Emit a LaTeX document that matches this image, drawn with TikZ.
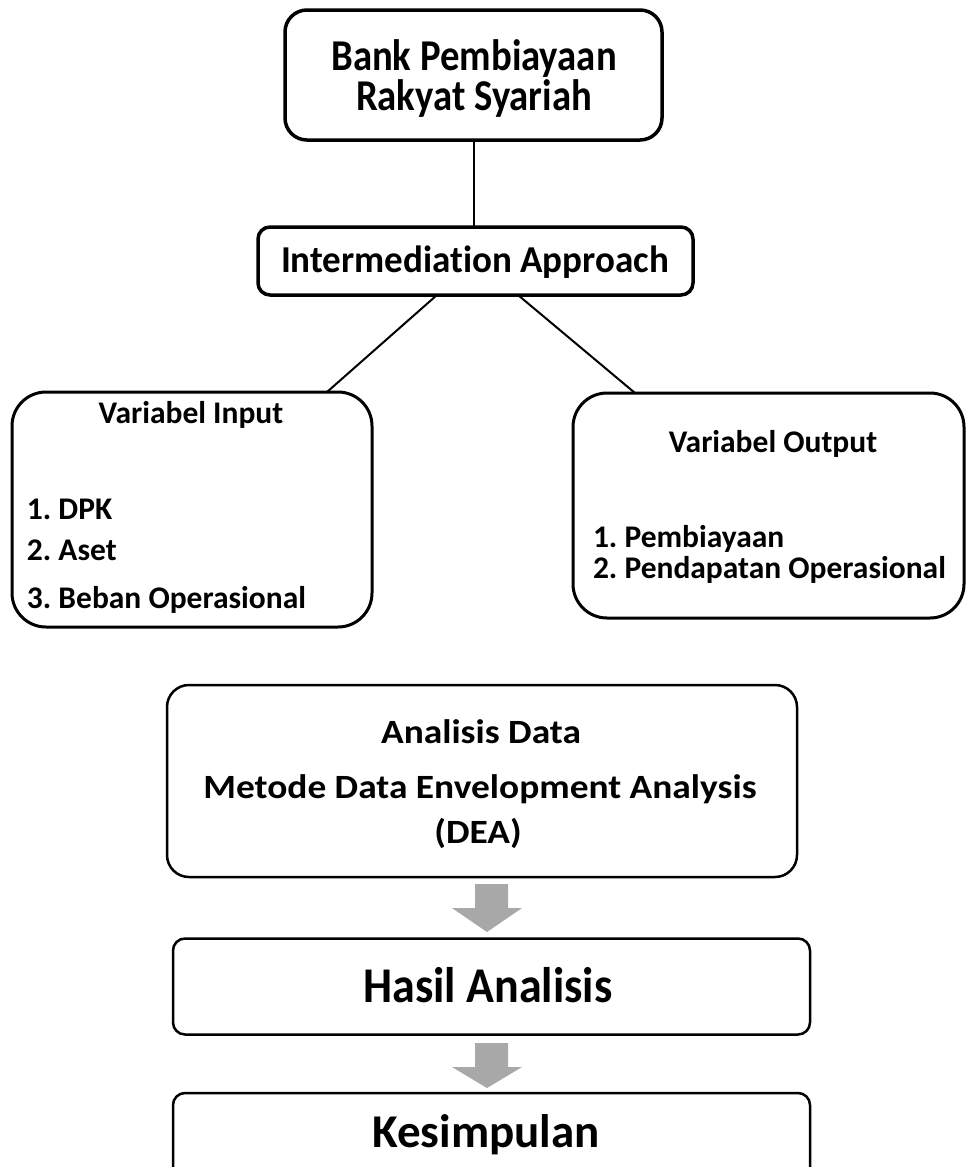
\documentclass[tikz,border=0pt]{standalone}
\usepackage{fontspec}
\setmainfont{Carlito}[Ligatures=NoCommon]
\usepackage{graphicx}
\usetikzlibrary{calc}
\newcommand\tx[3]{\fontsize{#1}{#1}\selectfont\bfseries\scalebox{#2}[1]{#3}}
\begin{document}
\begin{tikzpicture}[x=1pt,y=-1pt,
  box/.style={draw=black, rectangle, inner sep=0pt, outer sep=0pt, fill=white},
  txt/.style={inner sep=0pt, outer sep=0pt, text=black},
  conn/.style={draw=black, line width=2pt},
  arrowgray/.style={fill=black!34}]
\useasboundingbox (0,0) rectangle (966,1167);
\clip (0,0) rectangle (966,1167);
\fill[white] (0,0) rectangle (966,1167);

% boxes
\node[box, line width=3.5pt, rounded corners=22pt, minimum width=377pt, minimum height=130pt] (bank) at (473.5,75) {};
\node[box, line width=3.5pt, rounded corners=12pt, minimum width=435pt, minimum height=68pt] (inter) at (475.5,261) {};
\node[box, line width=3pt, rounded corners=34pt, minimum width=360pt, minimum height=235pt] (in) at (192,509.5) {};
\node[box, line width=3pt, rounded corners=34pt, minimum width=391pt, minimum height=225pt] (out) at (768.5,505.5) {};
\node[box, line width=2.5pt, rounded corners=22pt, minimum width=630pt, minimum height=192pt] (ana) at (482,781) {};
\node[box, line width=2.5pt, rounded corners=12pt, minimum width=637pt, minimum height=96pt] (hasil) at (491.5,986.5) {};
\node[box, line width=2.5pt, rounded corners=12pt, minimum width=637pt, minimum height=97pt] (kes) at (491.5,1141.5) {};

% connectors
\draw[conn] (bank.south) -- (bank.south |- inter.north);
\draw[conn] ([xshift=-38.5pt]inter.south) -- ([xshift=135pt]in.north);
\draw[conn] ([xshift=42.5pt]inter.south) -- ([xshift=-133.5pt]out.north);

% block arrows
\coordinate (a1) at (487,884);
\coordinate (a2) at (487,1043);
\fill[arrowgray] ($(a1)+(-12,0)$) -- ($(a1)+(21,0)$) -- ($(a1)+(21,24)$) -- ($(a1)+(35,24)$) -- ($(a1)+(0,48)$) -- ($(a1)+(-35,24)$) -- ($(a1)+(-12,24)$) -- cycle;
\fill[arrowgray] ($(a2)+(-12,0)$) -- ($(a2)+(21,0)$) -- ($(a2)+(21,24)$) -- ($(a2)+(35,24)$) -- ($(a2)+(0,45)$) -- ($(a2)+(-35,24)$) -- ($(a2)+(-12,24)$) -- cycle;

% texts
\node[txt, anchor=base] (tb1) at (474,70) {\tx{44}{0.88}{Bank Pembiayaan}};
\node[txt, anchor=base] (tb2) at (474,110) {\tx{44}{0.88}{Rakyat Syariah}};
\node[txt, anchor=base] (ti) at (475,272) {\tx{38}{0.975}{Intermediation Approach}};
\node[txt, anchor=base] (tvin) at (191,423) {\tx{31.5}{1}{Variabel Input}};
\node[txt, anchor=base west] (tin1) at (27,519) {\tx{31.5}{1}{1.\ DPK}};
\node[txt, anchor=base west] (tin2) at (27,560) {\tx{31.5}{1}{2.\ Aset}};
\node[txt, anchor=base west] (tin3) at (27,608) {\tx{31.5}{1}{3.\ Beban Operasional}};
\node[txt, anchor=base] (tvout) at (773,452) {\tx{31.5}{1}{Variabel Output}};
\node[txt, anchor=base west] (tout1) at (593,547) {\tx{31.5}{1}{1.\ Pembiayaan}};
\node[txt, anchor=base west] (tout2) at (593,578) {\tx{31.5}{1}{2.\ Pendapatan Operasional}};
\node[txt, anchor=base] (ta1) at (481,743) {\tx{34}{1.1}{Analisis Data}};
\node[txt, anchor=base] (ta2) at (480,798) {\tx{34}{1.1}{Metode Data Envelopment Analysis}};
\node[txt, anchor=base] (ta3) at (478,843) {\tx{34}{1.1}{(DEA)}};
\node[txt, anchor=base] (th) at (488,1002) {\tx{50}{0.92}{Hasil Analisis}};
\node[txt, anchor=base] (tk) at (486,1147) {\tx{47}{1}{Kesimpulan}};
\end{tikzpicture}
\end{document}
